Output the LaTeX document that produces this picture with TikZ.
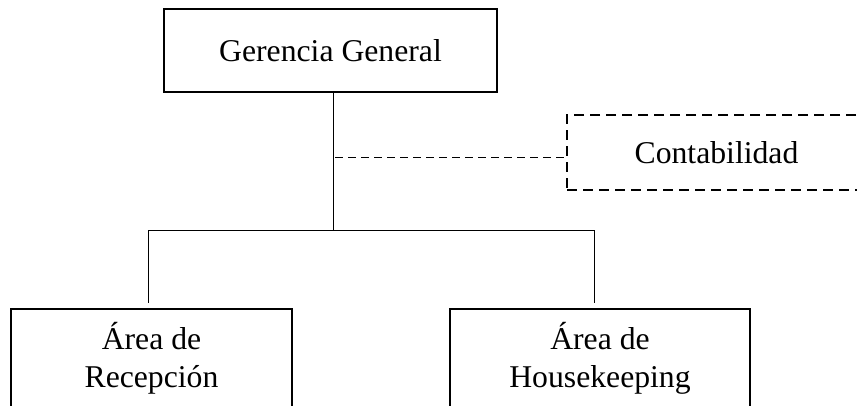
\documentclass[tikz,border=0pt]{standalone}
\usepackage{fontspec}
\setmainfont{Liberation Serif}
\usetikzlibrary{positioning}

\begin{document}
\begin{tikzpicture}[
  x=1pt, y=-1pt,
  box/.style={draw, line width=2pt, inner sep=0pt, align=center,
    font=\fontsize{31.7}{38}\selectfont},
  dbox/.style={box, dash pattern=on 10pt off 6pt},
  conn/.style={line width=1pt}
]
  \useasboundingbox (0,0) rectangle (857,405);
  \clip (0,0) rectangle (857,405);
  \node[box, minimum width=333pt, minimum height=83pt] (gg) at (330.5,50.5) {Gerencia General};
  \node[dbox, minimum width=299pt, minimum height=75pt] (cont) at (716.5,152.5) {Contabilidad};
  \node[box, minimum width=281pt, minimum height=98pt] (rec) at (151.5,358) {Área de\\Recepción};
  \node[box, minimum width=300pt, minimum height=98pt] (hk) at (600,358) {Área de\\Housekeeping};
  % tree lines
  \coordinate (hub) at (333,230);
  \coordinate (jl) at (148,230);
  \coordinate (jr) at (594,230);
  \coordinate (tap) at (335,157);
  \draw[conn] (gg.south -| hub) -- (hub);
  \draw[conn] (jl) -- (jr);
  \draw[conn, shorten >=5pt] (jl) -- (jl |- rec.north);
  \draw[conn, shorten >=5pt] (jr) -- (jr |- hk.north);
  \draw[conn, dash pattern=on 8pt off 5pt] (tap) -- (tap -| cont.west);
\end{tikzpicture}
\end{document}
